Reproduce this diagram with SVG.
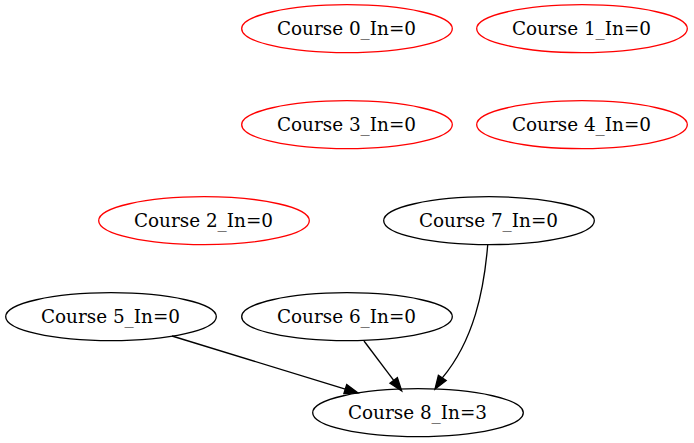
<svg xmlns="http://www.w3.org/2000/svg" width="694" height="443" viewBox="0 0 694 443">
<style>
  .n ellipse { fill: none; stroke: #000; stroke-width: 1.33; }
  .n.red ellipse { stroke: #ff0000; }
  .n text { font-family: "DejaVu Serif", "Liberation Serif", serif; font-size: 18.4px; text-anchor: middle; fill: #000; }
  .e path { fill: none; stroke: #000; stroke-width: 1.33; }
  .e polygon { fill: #000; stroke: #000; stroke-width: 1.33; }
</style>
<rect width="694" height="443" fill="#fff"/>
<g id="course0" class="n red"><ellipse cx="347" cy="28.7" rx="105.3" ry="24"/><text x="346.5" y="35">Course 0_In=0</text></g>
<g id="course1" class="n red"><ellipse cx="582" cy="28.7" rx="105.3" ry="24"/><text x="581.5" y="35">Course 1_In=0</text></g>
<g id="course3" class="n red"><ellipse cx="347" cy="124.7" rx="105.3" ry="24"/><text x="346.5" y="131">Course 3_In=0</text></g>
<g id="course4" class="n red"><ellipse cx="582" cy="124.7" rx="105.3" ry="24"/><text x="581.5" y="131">Course 4_In=0</text></g>
<g id="course2" class="n red"><ellipse cx="204" cy="220.7" rx="105.3" ry="24"/><text x="203.5" y="227">Course 2_In=0</text></g>
<g id="course7" class="n"><ellipse cx="489" cy="220.7" rx="105.3" ry="24"/><text x="488.5" y="227">Course 7_In=0</text></g>
<g id="course5" class="n"><ellipse cx="111" cy="316.7" rx="105.3" ry="24"/><text x="110.5" y="323">Course 5_In=0</text></g>
<g id="course6" class="n"><ellipse cx="347" cy="316.7" rx="105.3" ry="24"/><text x="346.5" y="323">Course 6_In=0</text></g>
<g id="course8" class="n"><ellipse cx="418" cy="412.7" rx="105.3" ry="24"/><text x="417.5" y="419">Course 8_In=3</text></g>
<g id="edges">
  <g class="e"><path d="M172,336 L345.3,389.1"/><polygon points="346.7,384.6 358,393 343.9,393.6"/></g>
  <g class="e"><path d="M364,341 L393.7,380.4"/><polygon points="397.4,377.6 401.7,391 390,383.2"/></g>
  <g class="e"><path d="M487.7,245 C484,290 474,340 442.3,377.9"/><polygon points="446.2,380.5 435,389 438.4,375.3"/></g>
</g>
</svg>
